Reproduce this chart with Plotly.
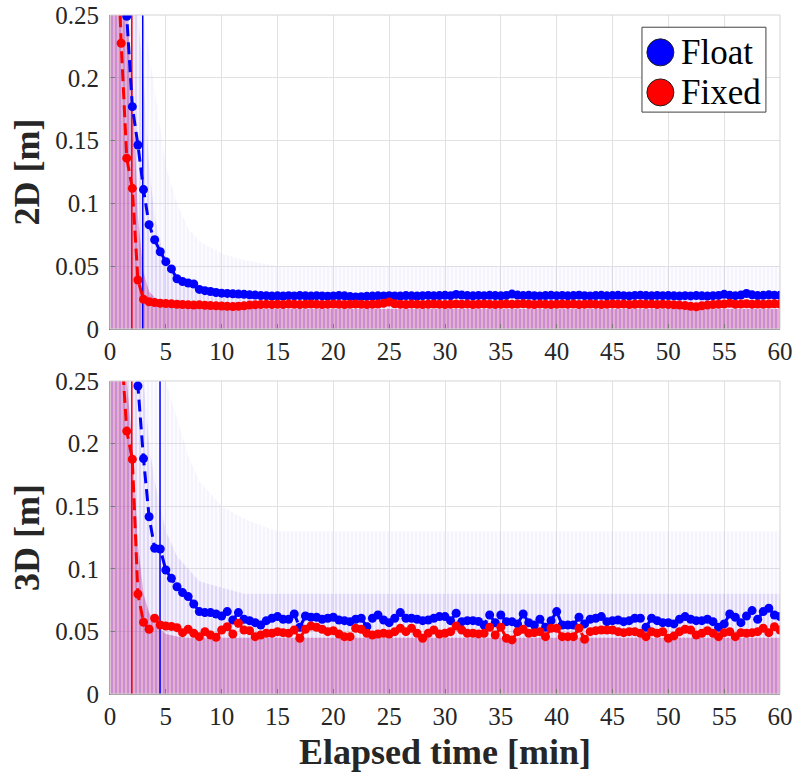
import plotly.graph_objects as go

# ---------------- data ----------------
t = [0.5 * i for i in range(1, 121)]  # elapsed time [min], 30 s epochs

float_2d = [0.40, 0.32, 0.249, 0.177, 0.1465, 0.111, 0.083, 0.071, 0.0615, 0.0536,
            0.0478, 0.0400, 0.0377, 0.0366, 0.0358, 0.0315, 0.0305, 0.0298, 0.0290, 0.0285,
            0.0283, 0.0280, 0.0278, 0.0276, 0.0272, 0.0270, 0.0266, 0.0265, 0.0262, 0.0264,
            0.0262, 0.0265, 0.0263, 0.0266, 0.0264, 0.0262, 0.0265, 0.0263, 0.0261, 0.0263,
            0.0266, 0.0264, 0.0258, 0.0255, 0.0257, 0.0260, 0.0262, 0.0264, 0.0263, 0.0265,
            0.0263, 0.0262, 0.0266, 0.0264, 0.0262, 0.0265, 0.0267, 0.0264, 0.0266, 0.0268,
            0.0265, 0.0275, 0.0270, 0.0266, 0.0264, 0.0267, 0.0265, 0.0268, 0.0266, 0.0264,
            0.0267, 0.0278, 0.0270, 0.0266, 0.0268, 0.0265, 0.0263, 0.0266, 0.0268, 0.0265,
            0.0267, 0.0264, 0.0266, 0.0269, 0.0265, 0.0263, 0.0266, 0.0268, 0.0264, 0.0266,
            0.0268, 0.0265, 0.0263, 0.0267, 0.0269, 0.0266, 0.0264, 0.0267, 0.0265, 0.0266,
            0.0264, 0.0262, 0.0265, 0.0263, 0.0266, 0.0264, 0.0262, 0.0265, 0.0267, 0.0276,
            0.0268, 0.0265, 0.0270, 0.0282, 0.0272, 0.0266, 0.0268, 0.0272, 0.0269, 0.0268]

fixed_2d = [0.35, 0.2275, 0.136, 0.112, 0.039, 0.0236, 0.0217, 0.0210, 0.0205, 0.0203,
            0.0200, 0.0197, 0.0195, 0.0192, 0.0190, 0.0192, 0.0189, 0.0186, 0.0184, 0.0183,
            0.0180, 0.0179, 0.0181, 0.0185, 0.0190, 0.0192, 0.0194, 0.0196, 0.0195, 0.0197,
            0.0195, 0.0198, 0.0196, 0.0194, 0.0197, 0.0199, 0.0196, 0.0194, 0.0197, 0.0198,
            0.0196, 0.0195, 0.0197, 0.0199, 0.0196, 0.0194, 0.0197, 0.0198, 0.0205, 0.0215,
            0.0200, 0.0197, 0.0195, 0.0198, 0.0196, 0.0194, 0.0197, 0.0199, 0.0196, 0.0194,
            0.0197, 0.0199, 0.0196, 0.0198, 0.0195, 0.0197, 0.0199, 0.0196, 0.0194, 0.0197,
            0.0199, 0.0196, 0.0198, 0.0200, 0.0197, 0.0195, 0.0198, 0.0196, 0.0194, 0.0197,
            0.0199, 0.0196, 0.0198, 0.0195, 0.0197, 0.0199, 0.0196, 0.0194, 0.0197, 0.0199,
            0.0196, 0.0198, 0.0195, 0.0197, 0.0199, 0.0196, 0.0198, 0.0195, 0.0197, 0.0194,
            0.0192, 0.0190, 0.0186, 0.0180, 0.0177, 0.0185, 0.0190, 0.0194, 0.0197, 0.0199,
            0.0205, 0.0196, 0.0198, 0.0201, 0.0197, 0.0199, 0.0196, 0.0198, 0.0200, 0.0199]

float_3d = [0.45, 0.40, 0.34, 0.30, 0.246, 0.188, 0.1416, 0.1164, 0.1158, 0.099,
            0.0924, 0.0857, 0.081, 0.0778, 0.0719, 0.0658, 0.065, 0.065, 0.0639, 0.0623,
            0.0658, 0.0591, 0.065, 0.0597, 0.0586, 0.057, 0.0551, 0.0586, 0.0605, 0.0618,
            0.0597, 0.0597, 0.0639, 0.0533, 0.0623, 0.0613, 0.0613, 0.0597, 0.0605, 0.0613,
            0.0591, 0.0586, 0.0578, 0.0597, 0.0605, 0.0538, 0.0605, 0.0631, 0.0591, 0.057,
            0.0605, 0.065, 0.0605, 0.0605, 0.0597, 0.0586, 0.0591, 0.0605, 0.0618, 0.0618,
            0.0586, 0.0645, 0.0578, 0.0586, 0.0586, 0.058, 0.0551, 0.0631, 0.057, 0.0631,
            0.0578, 0.0578, 0.056, 0.0639, 0.057, 0.0551, 0.0597, 0.0533, 0.0586, 0.0658,
            0.0551, 0.0551, 0.0551, 0.0613, 0.056, 0.0597, 0.0605, 0.0618, 0.0578, 0.0586,
            0.0591, 0.0578, 0.0586, 0.0605, 0.0605, 0.0533, 0.0605, 0.0586, 0.057, 0.057,
            0.056, 0.0597, 0.0618, 0.0597, 0.0586, 0.0586, 0.0597, 0.0578, 0.0533, 0.056,
            0.0639, 0.0613, 0.057, 0.0623, 0.0666, 0.0597, 0.0658, 0.0685, 0.0631, 0.0618]

fixed_3d = [0.40, 0.28, 0.210, 0.1875, 0.0799, 0.0573, 0.0517, 0.0605, 0.0551, 0.0543,
            0.054, 0.053, 0.049, 0.0517, 0.0485, 0.0458, 0.0498, 0.0471, 0.0453, 0.0511,
            0.0538, 0.0479, 0.0565, 0.0511, 0.0506, 0.0458, 0.0471, 0.0485, 0.0485, 0.0498,
            0.049, 0.0485, 0.0511, 0.0445, 0.0517, 0.0543, 0.0533, 0.0517, 0.0498, 0.0506,
            0.0479, 0.0458, 0.0458, 0.0525, 0.0517, 0.0485, 0.0471, 0.0479, 0.0485, 0.0479,
            0.0498, 0.0525, 0.0498, 0.0525, 0.0485, 0.0445, 0.0485, 0.0511, 0.0479, 0.0485,
            0.0498, 0.0543, 0.0511, 0.0485, 0.0485, 0.048, 0.0485, 0.0533, 0.0471, 0.0533,
            0.0445, 0.0432, 0.0498, 0.0517, 0.0485, 0.049, 0.0498, 0.0458, 0.0525, 0.0525,
            0.0458, 0.0458, 0.0458, 0.0525, 0.0437, 0.0498, 0.0506, 0.0511, 0.0511, 0.0511,
            0.0498, 0.049, 0.0498, 0.0498, 0.0485, 0.0458, 0.0498, 0.0485, 0.0498, 0.0445,
            0.0464, 0.0498, 0.0517, 0.0511, 0.0471, 0.0485, 0.0506, 0.0485, 0.0458, 0.049,
            0.0498, 0.0458, 0.049, 0.0485, 0.049, 0.0498, 0.0525, 0.049, 0.0538, 0.0511]

# convergence times [min] (vertical lines)
conv_2d = {"Float": 2.93, "Fixed": 1.95}
conv_3d = {"Float": 4.48, "Fixed": 1.95}

# envelopes of the faint individual-run traces (background cloud)
band_t = [0, 0.5, 1, 1.5, 2, 2.5, 3, 3.5, 4, 4.5, 5, 6, 7, 8, 10, 12, 15, 60]
haze_2d = [0.25, 0.25, 0.25, 0.25, 0.25, 0.25, 0.25, 0.22, 0.19, 0.16, 0.13, 0.10, 0.08, 0.07, 0.06, 0.055, 0.05, 0.05]
mid_2d = [0.25, 0.25, 0.25, 0.25, 0.25, 0.25, 0.20, 0.13, 0.09, 0.07, 0.055, 0.042, 0.035, 0.03, 0.027, 0.025, 0.024, 0.024]
dense_2d = [0.25, 0.25, 0.25, 0.25, 0.20, 0.09, 0.045, 0.03, 0.025, 0.022, 0.02, 0.018, 0.017, 0.017, 0.016, 0.016, 0.016, 0.016]
haze_3d = [0.25, 0.25, 0.25, 0.25, 0.25, 0.25, 0.25, 0.25, 0.25, 0.25, 0.25, 0.22, 0.19, 0.17, 0.15, 0.14, 0.13, 0.13]
mid_3d = [0.25, 0.25, 0.25, 0.25, 0.25, 0.25, 0.25, 0.20, 0.17, 0.15, 0.13, 0.11, 0.10, 0.09, 0.085, 0.08, 0.08, 0.08]
dense_3d = [0.25, 0.25, 0.25, 0.25, 0.20, 0.12, 0.08, 0.065, 0.058, 0.052, 0.048, 0.046, 0.045, 0.045, 0.045, 0.045, 0.045, 0.045]

y_ticks = [0, 0.05, 0.1, 0.15, 0.2, 0.25]
x_ticks = list(range(0, 61, 5))

# ---------------- style ----------------
FONT = "'Liberation Serif', 'Times New Roman', Times, serif"
BLUE = "rgb(0,0,255)"
RED = "rgb(255,0,0)"
TXT = "#262626"

fig = go.Figure()


def add_cloud(xa, ya, haze, mid, dense):
    layers = [
        (haze, "rgba(185,175,245,0.035)", "rgba(140,125,240,0.12)"),
        (mid, "rgba(165,135,235,0.09)", "rgba(130,100,230,0.22)"),
        (dense, "rgba(210,80,150,0.42)", "rgba(140,80,215,0.40)"),
    ]
    for env, bg, fg in layers:
        fig.add_trace(go.Scatter(
            x=band_t, y=env, xaxis=xa, yaxis=ya, mode="lines",
            line=dict(width=0), fill="tozeroy",
            fillpattern=dict(shape="|", size=4, solidity=0.3,
                             bgcolor=bg, fgcolor=fg, fillmode="replace"),
            hoverinfo="skip", showlegend=False))


def add_series(xa, ya, fl, fx, conv):
    for name, col in (("Float", BLUE), ("Fixed", RED)):
        fig.add_trace(go.Scatter(
            x=[conv[name], conv[name]], y=[0, 0.25], xaxis=xa, yaxis=ya,
            mode="lines", line=dict(color=col, width=1.5),
            hoverinfo="skip", showlegend=False))
    for name, col, ys in (("Float", BLUE, fl), ("Fixed", RED, fx)):
        fig.add_trace(go.Scatter(
            x=t, y=ys, xaxis=xa, yaxis=ya, name=name, mode="lines+markers",
            line=dict(color=col, width=3, dash="12px,6px"),
            marker=dict(color=col, size=9, symbol="circle"),
            cliponaxis=True, showlegend=False))


add_cloud("x", "y", haze_2d, mid_2d, dense_2d)
add_series("x", "y", float_2d, fixed_2d, conv_2d)
add_cloud("x2", "y2", haze_3d, mid_3d, dense_3d)
add_series("x2", "y2", float_3d, fixed_3d, conv_3d)

axis_common = dict(
    showgrid=True, gridcolor="#e2e2e2", gridwidth=1, zeroline=False,
    showline=True, linecolor="#7a7a7a", linewidth=1,
    ticks="inside", ticklen=5, tickcolor="#7a7a7a",
    tickfont=dict(family=FONT, size=25, color=TXT),
    automargin=False,
)

fig.update_layout(
    width=800, height=777,
    margin=dict(l=110, r=20, t=15, b=83),
    paper_bgcolor="white", plot_bgcolor="white",
    font=dict(family=FONT, color=TXT),
    showlegend=False,
    xaxis=dict(domain=[0, 1], anchor="y", range=[0, 60], tickvals=x_ticks, **axis_common),
    yaxis=dict(domain=[0.5376, 1], anchor="x", range=[0, 0.25], tickvals=y_ticks,
               ticklabelstandoff=5,
               title=dict(text="<b>2D [m]</b>", font=dict(family=FONT, size=36, color=TXT), standoff=4),
               **axis_common),
    xaxis2=dict(domain=[0, 1], anchor="y2", range=[0, 60], tickvals=x_ticks,
                title=dict(text="<b>Elapsed time [min]</b>", font=dict(family=FONT, size=36, color=TXT), standoff=9),
                **axis_common),
    yaxis2=dict(domain=[0, 0.461], anchor="x2", range=[0, 0.25], tickvals=y_ticks,
                ticklabelstandoff=5,
                title=dict(text="<b>3D [m]</b>", font=dict(family=FONT, size=36, color=TXT), standoff=4),
                **axis_common),
)

shapes = []
# light box around each axes
for xr, yr in (("x domain", "y domain"), ("x2 domain", "y2 domain")):
    shapes.append(dict(type="rect", xref=xr, yref=yr, x0=0, x1=1, y0=0, y1=1,
                       line=dict(color="#d4d4d4", width=1), layer="above"))

# custom legend (large markers like the original)
leg_x0, leg_x1, leg_y0, leg_y1 = 0.794, 0.979, 0.857, 0.982
shapes.append(dict(type="rect", xref="paper", yref="paper", x0=leg_x0, x1=leg_x1,
                   y0=leg_y0, y1=leg_y1, line=dict(color="#404040", width=1),
                   fillcolor="white", layer="above"))
legend_items = [("Float", BLUE, 0.945), ("Fixed", RED, 0.886)]
annotations = []
for name, col, yc in legend_items:
    shapes.append(dict(type="circle", xref="paper", yref="paper",
                       xsizemode="pixel", ysizemode="pixel",
                       xanchor=0.8215, yanchor=yc, x0=-13.5, x1=13.5, y0=-13.5, y1=13.5,
                       fillcolor=col, line=dict(color="#202020", width=1), layer="above"))
    annotations.append(dict(xref="paper", yref="paper", x=0.849, y=yc, text=name,
                            showarrow=False, xanchor="left", yanchor="middle",
                            font=dict(family=FONT, size=35, color="black")))

fig.update_layout(shapes=shapes, annotations=annotations)
fig.write_html("out.html")
